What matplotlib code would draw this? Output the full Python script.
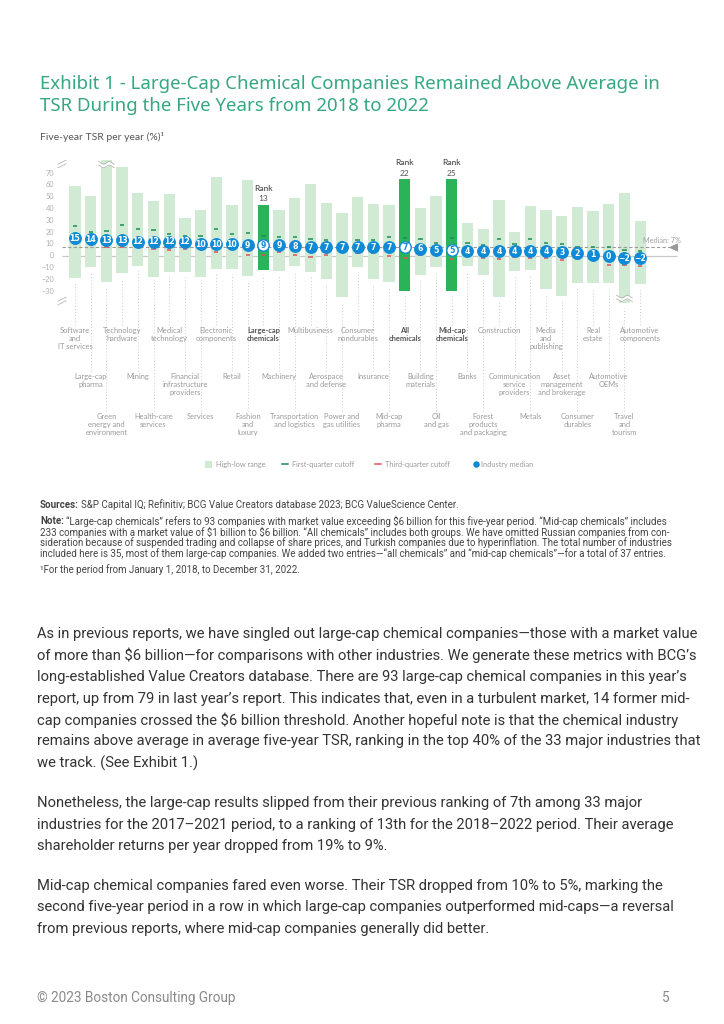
import matplotlib
matplotlib.use("Agg")
import matplotlib.pyplot as plt
import numpy as np
from matplotlib.patches import Rectangle

# ---------------- data ----------------
industries = [
    "Software\nand\nIT services", "Large-cap\npharma", "Green\nenergy and\nenvironment",
    "Technology\nhardware", "Mining", "Health-care\nservices",
    "Medical\ntechnology", "Financial\ninfrastructure\nproviders", "Services",
    "Electronic\ncomponents", "Retail", "Fashion\nand\nluxury",
    "Large-cap\nchemicals", "Machinery", "Transportation\nand logistics",
    "Multibusiness", "Aerospace\nand defense", "Power and\ngas utilities",
    "Consumer\nnondurables", "Insurance", "Mid-cap\npharma",
    "All\nchemicals", "Building\nmaterials", "Oil\nand gas",
    "Mid-cap\nchemicals", "Banks", "Forest\nproducts\nand packaging",
    "Construction", "Communication\nservice\nproviders", "Metals",
    "Media\nand\npublishing", "Asset\nmanagement\nand brokerage", "Consumer\ndurables",
    "Real\nestate", "Automotive\nOEMs", "Travel\nand\ntourism",
    "Automotive\ncomponents"]
medians = [15, 14, 13, 13, 12, 12, 12, 12, 10, 10, 10, 9, 9, 9, 8, 7, 7, 7, 7, 7, 7, 7,
           6, 5, 5, 4, 4, 4, 4, 4, 4, 3, 2, 1, 0, -2, -2]
highs = [59, 51, 81, 75, 53, 46, 52, 32, 39, 67, 43, 64, 43, 39, 49, 61, 45, 36, 50, 44,
         43, 65, 40, 51, 65, 28, 23, 47, 20, 42, 39, 34, 41, 38, 44, 53, 29]
lows = [-19, -10, -22, -15, -9, -18, -14, -14, -18, -11, -11, -17, -12, -13, -9, -14, -20,
        -35, -10, -20, -22, -30, -16, -10, -30, -9, -16, -35, -13, -12, -28, -34, -23, -23,
        -23, -40, -24]
q1_cut = [25, 20, 21, 26, 23, 22, 18, 17, 17, 23, 18, 19, 17, 16, 16, 14, 13, 12, 13, 13,
          16, 15, 14, 11, 15, 11, 9, 14, 10, 14, 11, 10, 7, 7, 7, 5, 4]
q3_cut = [10, 9, 7, 7, 7, 6, 5, 6, 6, 3, 6, 1, 1, 3, 1, -1, 1, 6, 2, 2, 0, -2, 1, 2, -3, 1,
          -2, -3, -1, -2, -2, -4, -3, -3, -8, -8, -9]
highlight = {12: 13, 21: 22, 24: 25}   # index -> rank
broken_top = [2]
broken_bottom = [35]
median_all = 7
yticks = [70, 60, 50, 40, 30, 20, 10, 0, -10, -20, -30]

# ---------------- style ----------------
LIGHT = "#d1ead3"
DARK = "#2bb35a"
BLUE = "#0f8ad6"
QGREEN = "#1d8c5a"
QRED = "#e4505d"
TEAL = "#35a782"
CHART_FONT = ["Lato", "DejaVu Sans"]
BODY_FONT = ["Roboto", "DejaVu Sans"]

fig = plt.figure(figsize=(7.24, 10.24), dpi=100)
fig.patch.set_facecolor("white")

ov = fig.add_axes([0, 0, 1, 1])
ov.set_xlim(0, 724)
ov.set_ylim(1024, 0)
ov.axis("off")
ov.patch.set_alpha(0)

# chart axes: pixel mapping  y0 = 255.7 px, 1.18 px per unit ; x0 = 75 px, 15.7 px per bar
Y0, PY = 255.7, 1.18
X0, PX = 75.0, 15.7
AX_L, AX_R, AX_T, AX_B = 62, 680, 150, 445
ax = fig.add_axes([AX_L / 724, 1 - AX_B / 1024, (AX_R - AX_L) / 724, (AX_B - AX_T) / 1024])
ax.set_xlim((AX_L - X0) / PX, (AX_R - X0) / PX)
ax.set_ylim((Y0 - AX_B) / PY, (Y0 - AX_T) / PY)
ax.axis("off")
ax.patch.set_alpha(0)


def v(py):
    return (Y0 - py) / PY


n = len(industries)
x = np.arange(n)

# bars
colors = [DARK if i in highlight else LIGHT for i in range(n)]
ax.bar(x, np.array(highs) - np.array(lows), bottom=lows, width=0.72, color=colors,
       edgecolor="none", zorder=2)

# zero line and median line
xl = ax.get_xlim()
ax.hlines(0, xl[0], (677 - X0) / PX, color="#c8c8c8", lw=0.9, zorder=1)
ax.hlines(median_all, xl[0], (673 - X0) / PX, color="#9a9a9a", lw=0.8,
          linestyles=(0, (3, 2)), zorder=3)
ax.plot([(673 - X0) / PX], [median_all], marker="<", ms=4, color="#9a9a9a", zorder=3)
ax.vlines((677 - X0) / PX, median_all - 4 / PY, median_all + 4 / PY, color="#9a9a9a", lw=0.8)
ax.text((681 - X0) / PX, median_all + 7 / PY, "Median: 7%", ha="right", va="center",
        fontsize=5.2, color="#a0a0a0", family=CHART_FONT)

# quartile ticks
ax.hlines(q1_cut, x - 0.14, x + 0.14, color=QGREEN, lw=1.1, zorder=4)
ax.hlines(q3_cut, x - 0.14, x + 0.14, color=QRED, lw=1.1, zorder=4)

# medians
for i in range(n):
    hl = i in highlight
    ax.scatter([x[i]], [medians[i]], s=68, color="white" if hl else BLUE,
               edgecolor=BLUE, linewidth=1.0, zorder=6)
    ax.text(x[i], medians[i] - 0.3, str(medians[i]).replace("-", "\u2212"),
            ha="center", va="center", fontsize=5.6, fontweight="bold",
            color=BLUE if hl else "white", zorder=7, family=["DejaVu Sans"])

# rank labels
for i, r in highlight.items():
    ax.text(x[i], highs[i] + 16 / PY, "Rank", ha="center", va="center", fontsize=6.0,
            color="#555555", fontweight="semibold", family=CHART_FONT)
    ax.text(x[i], highs[i] + 6 / PY, str(r), ha="center", va="center", fontsize=6.0,
            color="#555555", family=CHART_FONT)


# break symbols on bars
def wave_break(xc, yc):
    xs = np.linspace(xc - 0.5, xc + 0.5, 40)
    w = np.sin((xs - xc) * 2 * np.pi * 1.4) * 1.3 / PY
    ax.fill_between(xs, yc + w - 1.8 / PY, yc + w + 1.8 / PY, color="white", zorder=5, lw=0)
    ax.plot(xs, yc + w - 1.8 / PY, color="#b5b5b5", lw=0.6, zorder=5)
    ax.plot(xs, yc + w + 1.8 / PY, color="#b5b5b5", lw=0.6, zorder=5)


for i in broken_top:
    wave_break(x[i], highs[i] - 4.5 / PY)
for i in broken_bottom:
    wave_break(x[i], lows[i] + 4.5 / PY)

# dotted leader lines and category labels
row_top = [327, 373, 413]
for i in range(n):
    r = i % 3
    ax.vlines(x[i], v(row_top[r] - 2), lows[i] - 5 / PY, color="#c9c9c9", lw=0.7,
              linestyles=(0, (1, 2.2)), zorder=1)
    bold = i in highlight
    ax.text(x[i], v(row_top[r]), industries[i], ha="center", va="top", fontsize=5.45,
            linespacing=1.2, color="#555555" if bold else "#9a9a9a",
            fontweight="bold" if bold else "normal", family=CHART_FONT)

# y tick labels
for t in yticks:
    ax.text((54 - X0) / PX, t, str(t).replace("-", "\u2212"), ha="right", va="center",
            fontsize=5.3, color="#b0b0b0", family=CHART_FONT)

# axis break marks at left
for yb in (164, 301):
    for dy in (-1.8, 1.8):
        ov.plot([58, 66], [yb + dy + 2, yb + dy - 2], color="#b5b5b5", lw=0.6)

# ---------------- titles ----------------
ov.text(40, 84, "Exhibit 1 - Large-Cap Chemical Companies Remained Above Average in",
        fontsize=13.4, color=TEAL, va="center", family=["Noto Sans", "DejaVu Sans"])
ov.text(40, 106, "TSR During the Five Years from 2018 to 2022",
        fontsize=13.4, color=TEAL, va="center", family=["Noto Sans", "DejaVu Sans"])
ov.text(40, 137, "Five-year TSR per year (%)\u00b9", fontsize=7.5, color="#555555",
        va="center", family=CHART_FONT)

# ---------------- legend ----------------
LY = 464
ov.add_patch(Rectangle((205, LY - 3.5), 7, 7, color=LIGHT, lw=0))
ov.text(216, LY, "High-low range", fontsize=5.3, color="#9a9a9a", va="center", family=CHART_FONT)
ov.plot([282, 288], [LY, LY], color=QGREEN, lw=1.1)
ov.text(292, LY, "First-quarter cutoff", fontsize=5.3, color="#9a9a9a", va="center", family=CHART_FONT)
ov.plot([375, 381], [LY, LY], color=QRED, lw=1.1)
ov.text(385, LY, "Third-quarter cutoff", fontsize=5.3, color="#9a9a9a", va="center", family=CHART_FONT)
ov.scatter([476], [LY], s=22, color=BLUE, lw=0)
ov.text(481, LY, "Industry median", fontsize=5.3, color="#9a9a9a", va="center", family=CHART_FONT)

# ---------------- sources / notes ----------------
renderer = fig.canvas.get_renderer()


def mixed(xp, yp, bold, rest, fs, color):
    t = ov.text(xp, yp, bold, fontsize=fs, fontweight="bold", color=color, va="center",
                family=BODY_FONT, parse_math=False)
    bb = t.get_window_extent(renderer=renderer)
    ov.text(bb.x1 + 2.5, yp, rest, fontsize=fs, color=color, va="center", family=BODY_FONT,
            parse_math=False)


NFS = 7.05
NC = "#444444"
mixed(40, 505, "Sources:", "S&P Capital IQ; Refinitiv; BCG Value Creators database 2023; BCG ValueScience Center.", NFS, NC)
mixed(40, 521, "Note:", "\u201cLarge-cap chemicals\u201d refers to 93 companies with market value exceeding $6 billion for this five-year period. \u201cMid-cap chemicals\u201d includes", NFS, NC)
note_lines = [
    "233 companies with a market value of $1 billion to $6 billion. \u201cAll chemicals\u201d includes both groups. We have omitted Russian companies from con-",
    "sideration because of suspended trading and collapse of share prices, and Turkish companies due to hyperinflation. The total number of industries",
    "included here is 35, most of them large-cap companies. We added two entries\u2014\u201call chemicals\u201d and \u201cmid-cap chemicals\u201d\u2014for a total of 37 entries.",
]
for k, ln in enumerate(note_lines):
    ov.text(40, 532 + 11 * k, ln, fontsize=NFS, color=NC, va="center", family=BODY_FONT,
            parse_math=False)
ov.text(40, 570, "\u00b9For the period from January 1, 2018, to December 31, 2022.", fontsize=NFS,
        color=NC, va="center", family=BODY_FONT, parse_math=False)

# ---------------- body text ----------------
paras = [
    ["As in previous reports, we have singled out large-cap chemical companies\u2014those with a market value",
     "of more than $6 billion\u2014for comparisons with other industries. We generate these metrics with BCG\u2019s",
     "long-established Value Creators database. There are 93 large-cap chemical companies in this year\u2019s",
     "report, up from 79 in last year\u2019s report. This indicates that, even in a turbulent market, 14 former mid-",
     "cap companies crossed the $6 billion threshold. Another hopeful note is that the chemical industry",
     "remains above average in average five-year TSR, ranking in the top 40% of the 33 major industries that",
     "we track. (See Exhibit 1.)"],
    ["Nonetheless, the large-cap results slipped from their previous ranking of 7th among 33 major",
     "industries for the 2017\u20132021 period, to a ranking of 13th for the 2018\u20132022 period. Their average",
     "shareholder returns per year dropped from 19% to 9%."],
    ["Mid-cap chemical companies fared even worse. Their TSR dropped from 10% to 5%, marking the",
     "second five-year period in a row in which large-cap companies outperformed mid-caps\u2014a reversal",
     "from previous reports, where mid-cap companies generally did better."],
]
para_start = [634, 803, 886]
LS = 21.5
for p, start in zip(paras, para_start):
    for k, ln in enumerate(p):
        ov.text(37, start + LS * k, ln, fontsize=10.6, color="#333333", va="center",
                family=BODY_FONT, parse_math=False)

# footer
ov.text(37, 998, "\u00a9 2023 Boston Consulting Group", fontsize=9.8, color="#8a8a8a",
        va="center", family=BODY_FONT)
ov.text(662, 998, "5", fontsize=9.8, color="#8a8a8a", va="center", family=BODY_FONT)

fig.savefig("out.png", dpi=100, facecolor="white")
